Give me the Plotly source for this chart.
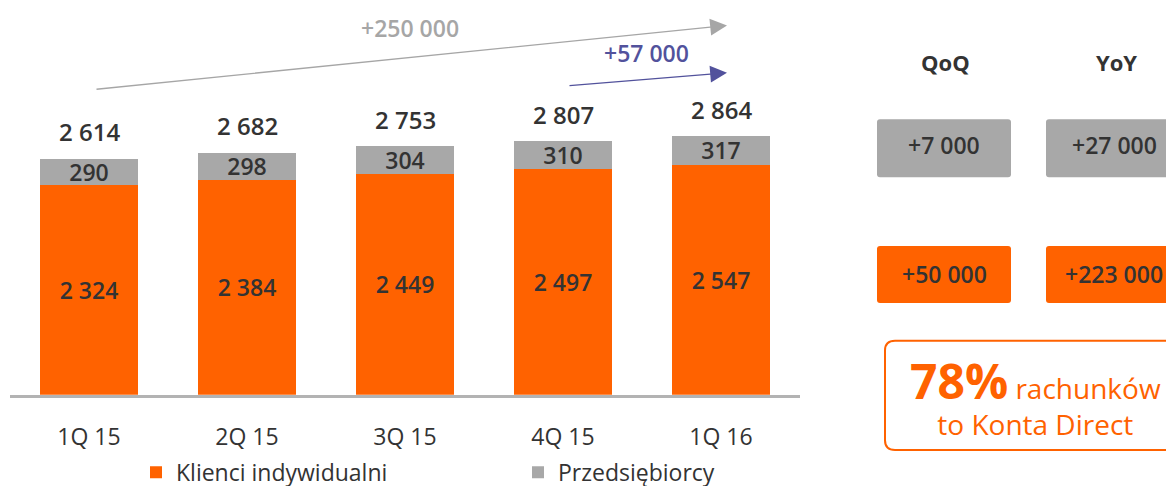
import plotly.graph_objects as go

categories = ["1Q 15", "2Q 15", "3Q 15", "4Q 15", "1Q 16"]
individual = [2324, 2384, 2449, 2497, 2547]
business = [290, 298, 304, 310, 317]
series_names = ["Klienci indywidualni", "Przedsiębiorcy"]
qoq_labels = ["+7 000", "+50 000"]
yoy_labels = ["+27 000", "+223 000"]
growth_total_label = "+250 000"
growth_qoq_label = "+57 000"

ORANGE = "#FF6200"
GRAY = "#A8A8A8"
DARK = "#333333"
PURPLE = "#52529C"
FONT = "Open Sans"

# map reference pixels to figure fractions (page shifts the figure 8px right)
OFFX, OFFY = 8, 0
W, H = 1166, 486
totals = [a + b for a, b in zip(individual, business)]


def fmt(v):
    return f"{v:,}".replace(",", " ")


def px(x):
    return (x - OFFX) / W


def py(y):
    return 1 - (y - OFFY) / H


def ann(x, y, text, size, color, weight=None, **kw):
    f = dict(family=FONT, size=size, color=color)
    if weight:
        f["weight"] = weight
    d = dict(x=px(x), y=py(y), xref="paper", yref="paper", text=text,
             showarrow=False, xanchor="center", yanchor="middle", font=f)
    d.update(kw)
    return d


fig = go.Figure()
for vals, name, col in [(individual, series_names[0], ORANGE),
                        (business, series_names[1], GRAY)]:
    fig.add_trace(go.Bar(
        x=categories, y=vals, name=name,
        marker=dict(color=col, line=dict(width=0)),
        text=[fmt(v) for v in vals], texttemplate="%{text}",
        textposition="inside", insidetextanchor="middle", constraintext="none",
        textfont=dict(family=FONT, size=23, color=DARK, weight=600), textangle=0,
        hoverinfo="skip",
    ))

annotations = []
for c, t in zip(categories, totals):
    annotations.append(dict(
        x=c, y=t, xref="x", yref="y", text=fmt(t),
        showarrow=False, yshift=27, yanchor="middle",
        font=dict(family=FONT, size=24, color=DARK, weight=600),
    ))

# growth arrows
annotations.append(dict(
    x=px(727), y=py(18), xref="paper", yref="paper", text="",
    showarrow=True, ax=95 - 727, ay=82 - 18, arrowhead=2, arrowsize=2.4,
    arrowwidth=1.4, arrowcolor="#A6A6A6", standoff=0,
))
annotations.append(ann(410, 21, growth_total_label, 23, "#A6A6A6", 600))
annotations.append(dict(
    x=px(727), y=py(67), xref="paper", yref="paper", text="",
    showarrow=True, ax=568 - 727, ay=80 - 67, arrowhead=2, arrowsize=2.4,
    arrowwidth=1.4, arrowcolor=PURPLE, standoff=0,
))
annotations.append(ann(646, 47, growth_qoq_label, 23, PURPLE, 600))

# right panel
annotations.append(ann(945, 56, "QoQ", 22, DARK, 700))
annotations.append(ann(1116, 56, "YoY", 22, DARK, 700))


def rounded(x0, y0, x1, y1, r):
    rx, ry = r / W, r / H
    X0, X1 = px(x0), px(x1)
    Y0, Y1 = py(y0), py(y1)  # Y0 top, Y1 bottom
    return (f"M {X0+rx},{Y0} L {X1-rx},{Y0} Q {X1},{Y0} {X1},{Y0-ry} "
            f"L {X1},{Y1+ry} Q {X1},{Y1} {X1-rx},{Y1} L {X0+rx},{Y1} "
            f"Q {X0},{Y1} {X0},{Y1+ry} L {X0},{Y0-ry} Q {X0},{Y0} {X0+rx},{Y0} Z")


shapes = []
rows = [(115, 175, GRAY, 142), (246, 305, ORANGE, 275)]
for i, (top, bot, col, yc) in enumerate(rows):
    shapes.append(dict(type="path", path=rounded(877, top, 1011, bot, 3),
                       xref="paper", yref="paper", fillcolor=col,
                       line=dict(width=0), layer="below"))
    shapes.append(dict(type="path", path=rounded(1046, top, 1190, bot, 3),
                       xref="paper", yref="paper", fillcolor=col,
                       line=dict(width=0), layer="below"))
    annotations.append(ann(944, yc, qoq_labels[i], 23, DARK, 600))
    annotations.append(ann(1114, yc, yoy_labels[i], 23, DARK, 600))

shapes.append(dict(type="path", path=rounded(885, 344, 1200, 457, 10),
                   xref="paper", yref="paper", fillcolor="rgba(0,0,0,0)",
                   line=dict(width=2, color=ORANGE), layer="above"))
annotations.append(ann(
    1035, 401,
    "<span style='font-size:48px;font-weight:bold'>78%</span> rachunków"
    "<br>to Konta Direct",
    28, ORANGE, align="center"))

fig.update_layout(
    width=W, height=H,
    margin=dict(l=0, r=0, t=0, b=0),
    paper_bgcolor="white", plot_bgcolor="white",
    barmode="stack", bargap=0.38,
    showlegend=True,
    legend=dict(orientation="h", x=px(136), y=py(480), xanchor="left",
                yanchor="middle", entrywidth=337, entrywidthmode="pixels",
                font=dict(family=FONT, size=23, color=DARK),
                traceorder="normal", itemwidth=30, bgcolor="rgba(0,0,0,0)"),
    xaxis=dict(domain=[px(10), px(800)], range=[-0.5, 4.5],
               showline=True, linecolor="#B3B3B3", linewidth=3,
               ticks="", showgrid=False, zeroline=False, ticklabelstandoff=20,
               tickfont=dict(family=FONT, size=23, color=DARK)),
    yaxis=dict(domain=[py(400), 1], range=[0, 400 / 0.0934],
               visible=False, showgrid=False, zeroline=False),
    annotations=annotations,
    shapes=shapes,
    font=dict(family=FONT, color=DARK),
)

fig.write_html("out.html")
